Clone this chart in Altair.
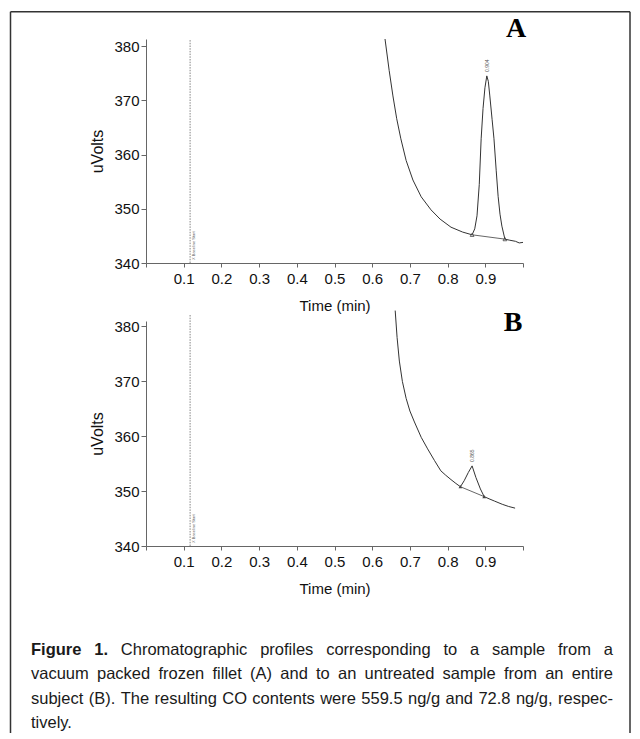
import altair as alt
import pandas as pd

# ---------------- data ----------------
time_a = [0.634, 0.645, 0.655, 0.665, 0.676, 0.690, 0.708, 0.730, 0.756, 0.780, 0.809, 0.840, 0.865,
          0.872, 0.878, 0.884, 0.889, 0.894, 0.899, 0.904, 0.908, 0.912, 0.918, 0.923, 0.929, 0.934,
          0.939, 0.944, 0.952, 0.965, 0.980, 0.990, 1.000]
uv_a = [381.3, 375.5, 370.8, 366.6, 362.9, 358.9, 355.3, 352.2, 349.8, 348.1, 346.6, 345.7, 345.2,
        346.3, 348.7, 354.5, 362.9, 368.5, 372.3, 374.5, 373.5, 370.8, 366.5, 362.9, 357.0, 352.3,
        349.0, 346.8, 344.4, 344.2, 344.0, 343.7, 343.8]

time_b = [0.661, 0.666, 0.672, 0.680, 0.690, 0.700, 0.712, 0.730, 0.747, 0.765, 0.782, 0.795, 0.809,
          0.822, 0.834, 0.844, 0.855, 0.865, 0.875, 0.887, 0.897, 0.910, 0.924, 0.945, 0.962, 0.979]
uv_b = [382.9, 378.0, 373.7, 370.0, 366.9, 364.6, 362.6, 359.8, 357.7, 355.6, 353.7, 352.9, 352.1,
        351.4, 350.8, 351.9, 353.4, 354.6, 352.5, 350.4, 349.0, 348.6, 348.2, 347.6, 347.2, 346.9]

base_a_t = [0.865, 0.952]
base_a_v = [345.2, 344.4]
base_b_t = [0.834, 0.897]
base_b_v = [350.8, 349.0]

apex_a_t, apex_a_v, apex_a_lbl = [0.904], [374.5], ["0.904"]
apex_b_t, apex_b_v, apex_b_lbl = [0.865], [354.6], ["0.865"]

inject_t = [0.117]
inject_lbl = ["X Baseline Start"]

x_ticks = [0.0, 0.1, 0.2, 0.3, 0.4, 0.5, 0.6, 0.7, 0.8, 0.9, 1.0]
y_ticks = [340, 350, 360, 370, 380]

caption_lines = [
    "Figure 1. Chromatographic profiles corresponding to a sample from a",
    "vacuum packed frozen fillet (A) and to an untreated sample from an entire",
    "subject (B). The resulting CO contents were 559.5 ng/g and 72.8 ng/g, respec-",
    "tively.",
]

# ---------------- styling ----------------
SANS = "Liberation Sans, Arial, Helvetica, sans-serif"
CAP_FONT = "Liberation Sans, Arial, sans-serif"
SERIF = "Liberation Serif, Times New Roman, serif"
AX = "#666666"
INK = "#111111"
TRACE = "#333333"

W = 377
H_A, H_B = 224, 225
GAP = 58


def axes():
    xax = alt.Axis(values=x_ticks, title="Time (min)", grid=False, tickSize=4,
                   labelExpr="datum.value < 0.05 || datum.value > 0.95 ? '' : format(datum.value, '.1f')",
                   labelFont=SANS, titleFont=SANS, labelFontSize=15, titleFontSize=15,
                   titleFontWeight="normal", labelColor=INK, titleColor=INK,
                   domainColor=AX, tickColor=AX, labelPadding=4, titlePadding=12, labelFlush=False)
    yax = alt.Axis(values=y_ticks, title="uVolts", grid=False, tickSize=5,
                   labelFont=SANS, titleFont=SANS, labelFontSize=15, titleFontSize=16,
                   titleFontWeight="normal", labelColor=INK, titleColor=INK,
                   domainColor=AX, tickColor=AX, labelPadding=2, titlePadding=8)
    return xax, yax


def panel(t, v, bt, bv, at, av, albl, ymax, h, inj_top, letter, lx, ly, filled):
    xs = alt.Scale(domain=[0, 1], nice=False, zero=False)
    ys = alt.Scale(domain=[340, ymax], nice=False, zero=False)
    xax, yax = axes()
    X = alt.X("t:Q", scale=xs, axis=xax)
    Y = alt.Y("v:Q", scale=ys, axis=yax)

    trace = alt.Chart(pd.DataFrame({"t": t, "v": v})).mark_line(
        color=TRACE, strokeWidth=1, clip=False).encode(x=X, y=Y, order="t:Q")

    bdf = pd.DataFrame({"t": bt, "v": bv})
    base = alt.Chart(bdf).mark_line(color="#555555", strokeWidth=0.9).encode(x=X, y=Y)
    marks = alt.Chart(bdf).mark_point(shape="triangle-up", size=14, filled=filled,
                                      color="#444444", strokeWidth=0.8, opacity=1).encode(x=X, y=Y)

    apex = alt.Chart(pd.DataFrame({"t": at, "v": av, "l": albl})).mark_text(
        angle=270, align="left", baseline="middle", dx=4, fontSize=5, font=SANS,
        color="#555555").encode(x=X, y=Y, text="l:N")

    inj = alt.Chart(pd.DataFrame({"t": inject_t, "v": [340], "v2": [inj_top], "l": inject_lbl})).mark_rule(
        color="#777777", strokeWidth=0.9, strokeDash=[1.5, 1.2], clip=False).encode(x=X, y=Y, y2="v2:Q")
    inj_txt = alt.Chart(pd.DataFrame({"t": inject_t, "v": [340], "l": inject_lbl})).mark_text(
        angle=270, align="left", baseline="top", dx=3, dy=1.5, fontSize=4, font=SANS,
        color="#666666").encode(x=X, y=Y, text="l:N")

    lab = alt.Chart(pd.DataFrame({"l": [letter]})).mark_text(
        font=SERIF, fontSize=28, fontWeight="bold", color="#000000",
        align="center", baseline="middle").encode(text="l:N", x=alt.value(lx), y=alt.value(ly))

    return alt.layer(inj, inj_txt, trace, base, marks, apex, lab).properties(width=W, height=h)


chart_a = panel(time_a, uv_a, base_a_t, base_a_v, apex_a_t, apex_a_v, apex_a_lbl,
                381.3, H_A, 381.3, "A", 370, -10, False)
chart_b = panel(time_b, uv_b, base_b_t, base_b_v, apex_b_t, apex_b_v, apex_b_lbl,
                381.0, H_B, 382.3, "B", 367, 2, True)

# ---------------- caption (justified by estimated glyph widths) ----------------
REG = {" ": 278, "(": 333, ")": 333, ",": 278, "-": 333, ".": 278, "/": 278,
       "A": 667, "B": 667, "C": 722, "F": 611, "O": 778, "T": 611,
       "a": 556, "b": 556, "c": 500, "d": 556, "e": 556, "f": 278, "g": 556, "h": 556,
       "i": 222, "j": 222, "k": 500, "l": 222, "m": 833, "n": 556, "o": 556, "p": 556,
       "q": 556, "r": 333, "s": 500, "t": 278, "u": 556, "v": 500, "w": 722, "x": 500,
       "y": 500, "z": 500}
for dgt in "0123456789":
    REG[dgt] = 556
BOLD = dict(REG)
BOLD.update({"F": 611, "i": 278, "g": 611, "u": 611, "r": 389, "e": 556})

CAP_FS = 16.5
LEFT, RIGHT = -115, 467   # page x 30 .. 612 relative to plot origin x=145
BASES = [50.75, 75.25, 99.75, 124.25]


def wlen(word, bold):
    tab = BOLD if bold else REG
    return sum(tab.get(c, 556) for c in word) * CAP_FS / 1000


rows = []
for i, line in enumerate(caption_lines):
    words = line.split(" ")
    bolds = [i == 0 and k < 2 for k in range(len(words))]
    widths = [wlen(w, b) for w, b in zip(words, bolds)]
    if i < len(caption_lines) - 1 and len(words) > 1:
        gap = (RIGHT - LEFT - sum(widths)) / (len(words) - 1)
    else:
        gap = REG[" "] * CAP_FS / 1000
    x = LEFT
    for w, b, wd in zip(words, bolds, widths):
        rows.append({"w": w, "x": x, "y": BASES[i], "bold": b})
        x += wd + gap
cap_df = pd.DataFrame(rows)

cap_reg = alt.Chart(cap_df[~cap_df["bold"]]).mark_text(
    font=CAP_FONT, fontSize=CAP_FS, color="#1a1a1a", align="left", baseline="alphabetic").encode(
    x=alt.X("x:Q", scale=None), y=alt.Y("y:Q", scale=None), text="w:N")
cap_bold = alt.Chart(cap_df[cap_df["bold"]]).mark_text(
    font=CAP_FONT, fontSize=CAP_FS, fontWeight="bold", color="#1a1a1a", align="left",
    baseline="alphabetic").encode(
    x=alt.X("x:Q", scale=None), y=alt.Y("y:Q", scale=None), text="w:N")

one = alt.Data(values=[{"k": 1}])
FR_L, FR_R, FR_T, FR_B = -135.5, 484, -592.25, 129
frame = [
    alt.Chart(one).mark_rule(color="#333333", strokeWidth=1.5).encode(
        x=alt.value(FR_L), y=alt.value(FR_T), y2=alt.value(FR_B)),
    alt.Chart(one).mark_rule(color="#333333", strokeWidth=1.5).encode(
        x=alt.value(FR_R), y=alt.value(FR_T), y2=alt.value(FR_B)),
    alt.Chart(one).mark_rule(color="#333333", strokeWidth=1.5).encode(
        x=alt.value(FR_L), x2=alt.value(FR_R), y=alt.value(FR_T)),
]

chart_c = alt.layer(*frame, cap_reg, cap_bold).properties(width=W, height=10)

chart = alt.vconcat(chart_a, chart_b, chart_c, spacing=GAP, bounds="flush").properties(
    padding={"left": 1, "top": 3, "right": 0, "bottom": 0},
    background="white",
).configure_view(strokeWidth=0, stroke="transparent")

chart.save("out.html", embed_options={"renderer": "svg", "actions": False})
